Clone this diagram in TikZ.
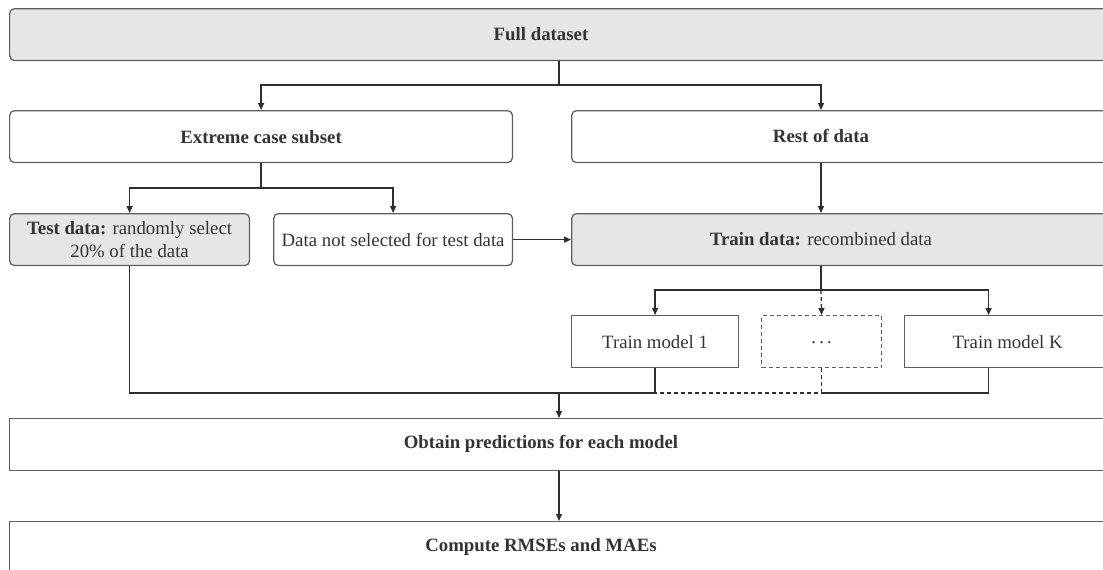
\documentclass[tikz,border=0pt]{standalone}
\usepackage{fontspec}
\setmainfont{Liberation Serif}
\usetikzlibrary{arrows.meta}
\definecolor{boxgray}{HTML}{5E5E5E}
\definecolor{fillgray}{HTML}{E6E6E6}
\definecolor{linegray}{HTML}{2E2E2E}
\definecolor{txtgray}{HTML}{333333}
\begin{document}
\begin{tikzpicture}[x=0.02cm, y=-0.02cm, font=\fontsize{10.7}{13.6}\selectfont,
  box/.style={draw=boxgray, line width=0.25mm, minimum height=1.04cm, inner sep=0pt, anchor=north west, text=txtgray},
  rbox/.style={box, rounded corners=0.1cm},
  gbox/.style={rbox, fill=fillgray},
  lbl/.style={text=txtgray, inner sep=0pt},
  link/.style={draw=linegray, line width=0.26mm},
  arr/.style={link, -{Triangle[length=1.4mm,width=1.2mm]}},
  dashline/.style={dash pattern=on 0.8mm off 0.6mm}]
\useasboundingbox (0,0) rectangle (1103,569);
\clip (0,0) rectangle (1103,569);
\node[gbox, minimum width=22.6cm] (full) at (9,8){};
\node[lbl] (fullt) at (541,34){\textbf{Full dataset}};
\node[rbox, minimum width=10.06cm] (extreme) at (9,110){\textbf{Extreme case subset}};
\node[rbox, minimum width=11.4cm] (rest) at (571,110){};
\node[lbl] (restt) at (821,136){\textbf{Rest of data}};
\node[gbox, minimum width=4.8cm, align=center] (test) at (9,213){\textbf{Test data:} randomly select\\20\% of the data};
\node[rbox, minimum width=4.78cm] (notsel) at (273,213){Data not selected for test data};
\node[gbox, minimum width=11.4cm] (train) at (571,213){};
\node[lbl] (traint) at (821,239){\textbf{Train data:} recombined data};
\node[box, minimum width=3.34cm] (m1) at (571,315){Train model 1};
\node[box, dashline, minimum width=2.4cm] (dots) at (761,315){\raisebox{-0.4ex}{.\,.\,.}};
\node[box, minimum width=4.12cm] (mk) at (904,315){Train model K};
\node[box, minimum width=22.6cm] (pred) at (9,418){};
\node[lbl] (predt) at (541,444){\textbf{Obtain predictions for each model}};
\node[box, minimum width=22.6cm] (rmse) at (9,521){};
\node[lbl] (rmset) at (541,547){\textbf{Compute RMSEs and MAEs}};
\coordinate (j1) at (559,85);
\coordinate (j2) at (extreme.south |- 0,188);
\coordinate (j3) at (821,290);
\coordinate (j4) at (559,393);
\coordinate (kin) at ([xshift=-0.38cm]mk.north);
\coordinate (kout) at ([xshift=-0.38cm]mk.south);
\draw[link](j1 |- full.south) -- (j1);
\draw[arr](j1) -| (extreme.north);
\draw[arr](j1) -| (restt |- rest.north);
\draw[link](extreme.south) -- (j2);
\draw[arr](j2) -| (test.north);
\draw[arr](j2) -| (notsel.north);
\draw[arr](notsel.east) -- (notsel.east -| train.west);
\draw[arr](restt |- rest.south) -- (restt |- train.north);
\draw[link](traint |- train.south) -- (j3);
\draw[arr](j3) -| (m1.north);
\draw[arr, dashline](j3) -- (dots.north);
\draw[arr](j3) -| (kin);
\draw[link](test.south) |- (j4);
\draw[link](m1.south) |- (j4);
\draw[link, dashline](dots.south) |- (j4);
\draw[link](kout) |- (dots.south |- j4);
\draw[arr](j4) -- (j4 |- pred.north);
\draw[arr](j4 |- pred.south) -- (j4 |- rmse.north);
\end{tikzpicture}
\end{document}
